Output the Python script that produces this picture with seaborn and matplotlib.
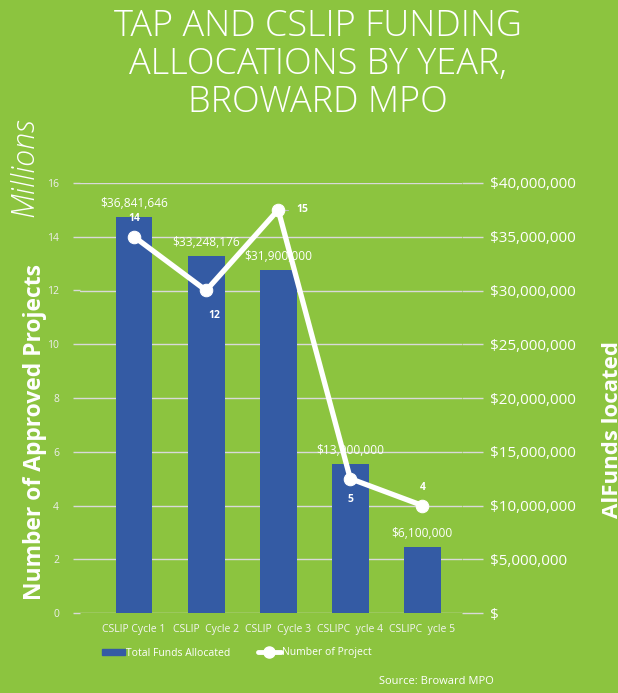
import matplotlib
matplotlib.use("Agg")
import matplotlib.pyplot as plt
import seaborn as sns
import pandas as pd
from matplotlib.patches import Patch
from matplotlib.lines import Line2D

# data
cycles = ["CSLIP Cycle 1", "CSLIP  Cycle 2", "CSLIP  Cycle 3", "CSLIPC  ycle 4", "CSLIPC  ycle 5"]
funds = [36841646, 33248176, 31900000, 13900000, 6100000]
fund_labels = ["$36,841,646", "$33,248,176", "$31,900,000", "$13,900,000", "$6,100,000"]
projects = [14, 12, 15, 5, 4]
left_ticks = [0, 2, 4, 6, 8, 10, 12, 14, 16]
right_ticks = [0, 5e6, 10e6, 15e6, 20e6, 25e6, 30e6, 35e6, 40e6]
right_tick_labels = ["$", "$5,000,000", "$10,000,000", "$15,000,000", "$20,000,000",
                     "$25,000,000", "$30,000,000", "$35,000,000", "$40,000,000"]

GREEN = "#8cc43f"
BLUE = "#345ba4"
GRID = "#d9d9d9"
FONT = ["Open Sans", "DejaVu Sans"]

sns.set_theme(style="white")
plt.rcParams["font.family"] = FONT

df = pd.DataFrame({"cycle": cycles, "funds": funds, "projects": projects})

fig = plt.figure(figsize=(6.18, 6.93), dpi=100, facecolor=GREEN)
ax = fig.add_axes([80 / 618, 1 - 613 / 693, 382 / 618, 430 / 693])
ax.set_facecolor("none")
ax2 = ax.twinx()

# bars: funds, on the right-hand scale
sns.barplot(data=df, x="cycle", y="funds", color=BLUE, width=0.51, saturation=1,
            edgecolor=BLUE, linewidth=0, ax=ax, zorder=2)
ax.set_ylim(0, 40e6)
ax.set_xlim(-0.75, 4.55)
ax.set_xlabel("")
ax.set_ylabel("")
ax.grid(axis="y", color=GRID, linewidth=1)
ax.set_axisbelow(True)
for s in ax.spines.values():
    s.set_visible(False)
ax.bar_label(ax.containers[0], labels=fund_labels, padding=5, fontsize=8.6, color="white")

# line: number of projects, on the left-hand scale
sns.lineplot(data=df, x="cycle", y="projects", color="white", linewidth=3.8,
             marker="o", markersize=9, markeredgecolor="white", ax=ax2, zorder=3)
ax2.set_ylim(0, 16)
ax2.set_ylabel("")
ax2.set_xlabel("")
for s in ax2.spines.values():
    s.set_visible(False)

# axis sides: money on the right, counts on the left
ax.yaxis.tick_right()
ax.set_yticks(right_ticks)
ax.set_yticklabels(right_tick_labels)
ax.tick_params(axis="y", left=False, right=True, labelleft=False, labelright=True,
               length=15, width=1, color=GRID, pad=5, labelsize=11, labelcolor="white")
ax.tick_params(axis="x", bottom=False, pad=2, labelsize=7.5, labelcolor="#f4f4f4")

ax2.yaxis.tick_left()
ax2.set_yticks(left_ticks)
ax2.tick_params(axis="y", left=True, right=False, labelleft=True, labelright=False,
                length=5, width=1, color=GRID, pad=10, labelsize=7.5, labelcolor="#eeeeee")

offsets = [(0, 13), (6, -18), (17, 0), (0, -15), (0, 13)]
for i, (n, off) in enumerate(zip(projects, offsets)):
    ax2.annotate(str(n), (i, n), xytext=off, textcoords="offset points",
                 ha="center", va="center", fontsize=7.5, fontweight="bold", color="white")
ax2.plot([2, 2.13], [15, 15], color="#bbbbbb", linewidth=0.8, zorder=2)

# titles and axis labels
fig.text(0.515, 0.988, "TAP AND CSLIP FUNDING\nALLOCATIONS BY YEAR,\nBROWARD MPO",
         ha="center", va="top", fontsize=26, fontweight="light", color="white",
         linespacing=1.03)
fig.text(25 / 618, 1 - 167 / 693, "Millions", rotation=90, ha="center", va="center",
         fontsize=22, fontstyle="italic", fontweight="light", color="white")
fig.text(35 / 618, 1 - 432 / 693, "Number of Approved Projects", rotation=90,
         ha="center", va="center", fontsize=16.5, fontweight="bold", color="white")
fig.text(613 / 618, 1 - 518 / 693, "AlFunds located", rotation=90,
         ha="center", va="bottom", fontsize=16, fontweight="bold", color="white")

handles = [Patch(facecolor=BLUE, edgecolor=BLUE),
           Line2D([0], [0], color="white", linewidth=3.5, marker="o", markersize=8)]
fig.legend(handles, ["Total Funds Allocated", "Number of Project"], ncol=2,
           loc="center left", bbox_to_anchor=(93 / 618, 1 - 653 / 693), frameon=False,
           fontsize=7.5, labelcolor="white", handlelength=2.2, handleheight=0.6,
           handletextpad=0.1, columnspacing=2.6)

fig.text(379 / 618, 1 - 681 / 693, "Source: Broward MPO", ha="left", va="center",
         fontsize=8, color="white")

fig.savefig("out.png", dpi=100, facecolor=GREEN)
